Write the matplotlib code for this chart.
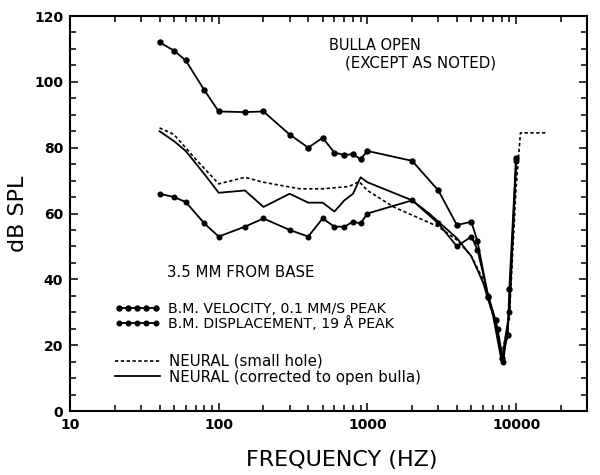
import numpy as np
import matplotlib.pyplot as plt
from matplotlib.ticker import LogLocator, MultipleLocator, FixedLocator, FixedFormatter, NullFormatter

# B.M. velocity, 0.1 mm/s peak
vel_freq = [40, 50, 60, 80, 100, 150, 200, 300, 400, 500, 600, 700, 800, 900, 1000,
            2000, 3000, 4000, 5000, 5500, 6500, 7300, 8000, 8800, 9000, 10000]
vel_db = [112, 109.5, 106.5, 97.5, 91, 90.8, 91, 84, 80, 83, 78.5, 77.8, 78, 76.5, 79,
          76, 67, 56.5, 57.5, 51.5, 34.5, 27.5, 16, 23, 37, 77]

# B.M. displacement, 19 A peak
disp_freq = [40, 50, 60, 80, 100, 150, 200, 300, 400, 500, 600, 700, 800, 900, 1000,
             2000, 3000, 4000, 5000, 5500, 6500, 7500, 8200, 9000, 10000]
disp_db = [66, 65, 63.5, 57, 53, 56, 58.5, 55, 53, 58.5, 56, 56, 57.5, 57, 60,
           64, 57, 50, 53, 49, 35, 25, 15, 30, 76]

# neural, small hole
hole_freq = [40, 50, 70, 100, 150, 200, 350, 500, 750, 880, 1000, 1500, 2000, 3000,
             4000, 5000, 6000, 7000, 8000, 9000, 10000, 10700, 16000]
hole_db = [86, 84, 76.5, 69, 71, 69.5, 67.5, 67.5, 68.2, 69.7, 67, 62, 59.5, 56,
           52, 47, 40, 30, 17, 28, 68, 84.5, 84.5]

# neural, corrected to open bulla
corr_freq = [40, 50, 60, 80, 100, 150, 200, 300, 400, 500, 600, 700, 800, 900, 1000,
             2000, 2600, 4000, 5000, 6000, 7000, 8000, 9000, 10000]
corr_db = [85, 82, 79, 72, 66.3, 67, 62, 66, 63.3, 63.3, 60.6, 64, 66, 71, 69.5,
           64, 60, 52.5, 47, 39, 29, 15, 30, 75]

x_ticks = [10, 100, 1000, 10000]
x_labels = ['10', '100', '1000', '10000']
y_ticks = [0, 20, 40, 60, 80, 100, 120]

plt.rcParams['font.family'] = ['DejaVu Sans']

fig = plt.figure(figsize=(6, 4.75), dpi=100)
ax = fig.add_axes([0.1167, 0.1347, 0.8617, 0.8316])

ax.plot(hole_freq, hole_db, color='black', lw=1.2, ls=(0, (2, 1.5)),
        label='NEURAL (small hole)')
ax.plot(corr_freq, corr_db, color='black', lw=1.3,
        label='NEURAL (corrected to open bulla)')
vel, = ax.plot(vel_freq, vel_db, color='black', lw=1.3, marker='o', ms=3.6,
               label='B.M. VELOCITY, 0.1 MM/S PEAK')
disp, = ax.plot(disp_freq, disp_db, color='black', lw=1.3, marker='o', ms=3.3,
                label='B.M. DISPLACEMENT, 19 \u00c5 PEAK')

ax.set_xscale('log')
ax.set_xlim(10, 30000)
ax.set_ylim(0, 120)

ax.xaxis.set_major_locator(FixedLocator(x_ticks))
ax.xaxis.set_major_formatter(FixedFormatter(x_labels))
ax.xaxis.set_minor_locator(LogLocator(base=10, subs=np.arange(2, 10)))
ax.xaxis.set_minor_formatter(NullFormatter())
ax.yaxis.set_major_locator(FixedLocator(y_ticks))
ax.yaxis.set_minor_locator(MultipleLocator(5))

ax.tick_params(which='both', direction='in', top=True, right=True, width=1.1)
ax.tick_params(which='major', length=6, labelsize=10, pad=5)
ax.tick_params(which='minor', length=4)
for lab in ax.get_xticklabels() + ax.get_yticklabels():
    lab.set_fontweight('bold')
for sp in ax.spines.values():
    sp.set_linewidth(1.5)

ax.set_xlabel('FREQUENCY (HZ)', fontsize=16)
ax.xaxis.set_label_coords(0.525, -0.098)
ax.set_ylabel('dB SPL', fontsize=16, labelpad=4)

ax.text(0.50, 0.925, 'BULLA OPEN', transform=ax.transAxes, fontsize=10.5, va='center')
ax.text(0.532, 0.882, '(EXCEPT AS NOTED)', transform=ax.transAxes, fontsize=10.8, va='center')
ax.text(0.188, 0.35, '3.5 MM FROM BASE', transform=ax.transAxes, fontsize=10.8, va='center')

leg1 = ax.legend(handles=[vel, disp], loc='upper left', bbox_to_anchor=(0.075, 0.29),
                 frameon=False, fontsize=10.2, numpoints=5, handlelength=3.2,
                 handletextpad=0.6, labelspacing=0.0, borderaxespad=0)
ax.add_artist(leg1)
h = ax.get_lines()
ax.legend(handles=[h[0], h[1]], loc='upper left', bbox_to_anchor=(0.075, 0.16),
          frameon=False, fontsize=10.8, handlelength=3.0, handletextpad=0.6,
          labelspacing=0.05, borderaxespad=0)

fig.savefig('out.png', dpi=100)
